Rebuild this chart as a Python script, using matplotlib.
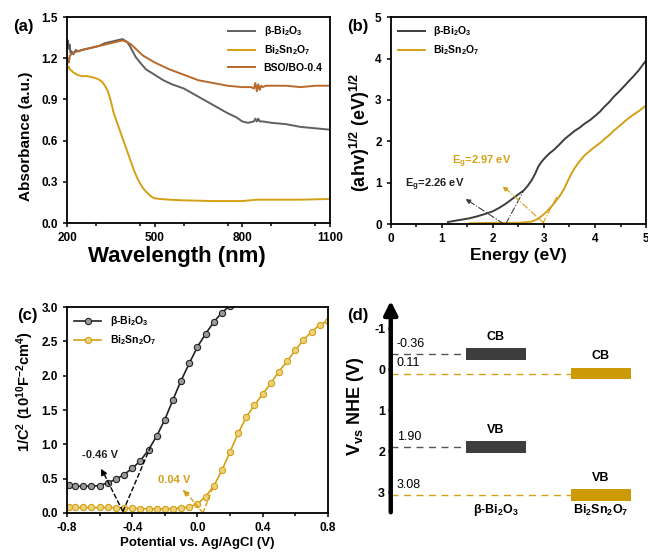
import matplotlib
matplotlib.use('Agg')
import matplotlib.pyplot as plt
from matplotlib.ticker import MultipleLocator

plt.rcParams['font.family'] = ['Liberation Sans', 'DejaVu Sans']
plt.rcParams['font.weight'] = 'bold'
plt.rcParams['axes.labelweight'] = 'bold'
plt.rcParams['axes.linewidth'] = 1.3
plt.rcParams['axes.unicode_minus'] = False
plt.rcParams['mathtext.fontset'] = 'custom'
plt.rcParams['mathtext.rm'] = 'Liberation Sans:bold'
plt.rcParams['mathtext.bf'] = 'Liberation Sans:bold'
plt.rcParams['mathtext.it'] = 'Liberation Sans:bold'

GRAY = '#5f5f5f'
GOLD = '#d4a017'
BROWN = '#b8692c'
DARK = '#3d3d3d'

LBL_BO = 'β-Bi$_2$O$_3$'
LBL_BSO = 'Bi$_2$Sn$_2$O$_7$'

# (a) UV-vis absorbance
wl_bo = [200, 203, 206, 209, 212, 216, 222, 230, 240, 250, 270, 290, 310, 330, 350, 370,
         390, 405, 415, 425, 435, 450, 470, 500, 530, 560, 600, 650, 700, 750, 780, 800,
         820, 840, 845, 850, 855, 860, 870, 900, 950, 1000, 1050, 1100]
abs_bo = [1.31, 1.33, 1.27, 1.30, 1.24, 1.25, 1.23, 1.26, 1.25, 1.26, 1.27, 1.28, 1.29, 1.31, 1.32, 1.33,
          1.34, 1.32, 1.29, 1.25, 1.21, 1.17, 1.12, 1.08, 1.04, 1.01, 0.98, 0.92, 0.86, 0.80, 0.77, 0.74,
          0.73, 0.74, 0.76, 0.74, 0.76, 0.74, 0.74, 0.73, 0.72, 0.70, 0.69, 0.68]
wl_bso = [200, 205, 210, 220, 235, 250, 270, 290, 305, 320, 330, 340, 350, 360, 370, 380, 390,
          400, 410, 420, 430, 440, 450, 460, 470, 480, 490, 500, 520, 550, 600, 700, 800, 850,
          900, 1000, 1100]
abs_bso = [1.12, 1.14, 1.12, 1.10, 1.08, 1.07, 1.07, 1.06, 1.05, 1.03, 1.00, 0.96, 0.89, 0.80, 0.74, 0.68, 0.62,
           0.56, 0.50, 0.44, 0.38, 0.33, 0.29, 0.255, 0.23, 0.21, 0.19, 0.18, 0.175, 0.17, 0.165, 0.16, 0.16, 0.17,
           0.17, 0.17, 0.175]
wl_mix = [200, 203, 206, 210, 220, 235, 250, 270, 290, 310, 330, 350, 370, 390, 405, 420, 440,
          460, 500, 550, 600, 650, 700, 750, 800, 830, 840, 845, 850, 855, 860, 865, 870, 880,
          900, 950, 1000, 1050, 1100]
abs_mix = [1.15, 1.20, 1.17, 1.22, 1.24, 1.25, 1.26, 1.27, 1.28, 1.29, 1.30, 1.31, 1.32, 1.33, 1.32, 1.30, 1.26,
           1.22, 1.17, 1.12, 1.08, 1.04, 1.02, 1.00, 0.99, 0.99, 0.98, 1.02, 0.96, 1.01, 0.97, 1.00, 0.99, 1.00,
           1.00, 1.00, 0.99, 1.00, 1.00]

# (b) Tauc plot
e_bo = [1.12, 1.30, 1.54, 1.70, 1.86, 2.00, 2.12, 2.25, 2.37, 2.50, 2.60, 2.68, 2.76, 2.83, 2.89, 2.95,
        3.02, 3.10, 3.21, 3.30, 3.41, 3.50, 3.60, 3.70, 3.79, 3.90, 3.99, 4.10, 4.18, 4.28, 4.37, 4.47,
        4.57, 4.66, 4.76, 4.86, 4.93, 5.0]
t_bo = [0.05, 0.09, 0.14, 0.19, 0.25, 0.31, 0.39, 0.49, 0.60, 0.72, 0.81, 0.92, 1.06, 1.22, 1.39, 1.50,
        1.60, 1.70, 1.81, 1.92, 2.06, 2.15, 2.25, 2.33, 2.42, 2.51, 2.60, 2.72, 2.83, 2.95, 3.08, 3.20,
        3.33, 3.45, 3.58, 3.72, 3.84, 3.95]
e_bso = [1.54, 2.0, 2.5, 2.76, 2.89, 3.02, 3.10, 3.15, 3.23, 3.31, 3.40, 3.47, 3.54, 3.60, 3.70, 3.79,
         3.90, 3.99, 4.10, 4.18, 4.28, 4.37, 4.47, 4.57, 4.66, 4.76, 4.86, 4.93, 5.0]
t_bso = [0.02, 0.03, 0.03, 0.06, 0.13, 0.26, 0.36, 0.43, 0.55, 0.68, 0.86, 1.05, 1.22, 1.35, 1.52, 1.65,
         1.77, 1.86, 1.96, 2.05, 2.15, 2.26, 2.36, 2.47, 2.56, 2.65, 2.73, 2.80, 2.86]

# (c) Mott-Schottky
v_bo = [-0.79, -0.75, -0.70, -0.65, -0.60, -0.55, -0.50, -0.45, -0.40, -0.35, -0.30, -0.25,
        -0.20, -0.15, -0.10, -0.05, 0.00, 0.05, 0.10, 0.15, 0.20]
ms_bo = [0.41, 0.39, 0.39, 0.39, 0.40, 0.44, 0.49, 0.56, 0.65, 0.76, 0.92, 1.12,
         1.36, 1.65, 1.93, 2.18, 2.42, 2.61, 2.78, 2.92, 3.02]
v_bso = [-0.79, -0.75, -0.70, -0.65, -0.60, -0.55, -0.50, -0.45, -0.40, -0.35, -0.30, -0.25,
         -0.20, -0.15, -0.10, -0.05, 0.00, 0.05, 0.10, 0.15, 0.20, 0.25, 0.30, 0.35, 0.40,
         0.45, 0.50, 0.55, 0.60, 0.65, 0.70, 0.75, 0.80]
ms_bso = [0.08, 0.08, 0.08, 0.08, 0.08, 0.08, 0.075, 0.07, 0.07, 0.065, 0.06, 0.06,
          0.06, 0.065, 0.07, 0.09, 0.13, 0.24, 0.39, 0.62, 0.89, 1.16, 1.40, 1.57, 1.73,
          1.89, 2.06, 2.21, 2.37, 2.52, 2.64, 2.74, 2.80]

# (d) band positions (V vs NHE)
materials = [LBL_BO, LBL_BSO]
cb = [-0.36, 0.11]
vb = [1.90, 3.08]
band_colors = [DARK, '#cc9a06']
line_colors = ['#555555', GOLD]

fig = plt.figure(figsize=(6.48, 5.52), dpi=100)
ax_a = fig.add_axes([0.1034, 0.596, 0.4056, 0.373])
ax_b = fig.add_axes([0.603, 0.594, 0.394, 0.375])
ax_c = fig.add_axes([0.1034, 0.0707, 0.4025, 0.373])
ax_d = fig.add_axes([0.603, 0.067, 0.386, 0.393])

for ax in (ax_a, ax_b, ax_c):
    ax.tick_params(which='both', direction='out', labelsize=8.5, width=1.1)
    ax.tick_params(which='major', length=3)
    ax.tick_params(which='minor', length=2)
    for lab in ax.get_xticklabels() + ax.get_yticklabels():
        lab.set_fontweight('bold')

# ---- (a)
ax_a.plot(wl_bo, abs_bo, color=GRAY, lw=1.4, label=LBL_BO)
ax_a.plot(wl_bso, abs_bso, color=GOLD, lw=1.4, label=LBL_BSO)
ax_a.plot(wl_mix, abs_mix, color=BROWN, lw=1.4, label='BSO/BO-0.4')
ax_a.set_xlim(200, 1100)
ax_a.set_ylim(0, 1.5)
ax_a.set_xticks([200, 500, 800, 1100])
ax_a.xaxis.set_minor_locator(MultipleLocator(150))
ax_a.set_yticks([0.0, 0.3, 0.6, 0.9, 1.2, 1.5])
ax_a.set_xlabel('Wavelength (nm)', fontsize=16)
ax_a.xaxis.set_label_coords(0.418, -0.11)
ax_a.set_ylabel('Absorbance (a.u.)', fontsize=11)
ax_a.yaxis.set_label_coords(-0.13, 0.42)
ax_a.legend(loc='upper right', frameon=False, fontsize=7.5, handlelength=2.6,
            borderaxespad=0.3, labelspacing=0.5)

# ---- (b)
ax_b.plot(e_bo, t_bo, color=DARK, lw=1.4, label=LBL_BO)
ax_b.plot(e_bso, t_bso, color=GOLD, lw=1.4, label=LBL_BSO)
ax_b.set_xlim(0, 5)
ax_b.set_ylim(0, 5)
ax_b.xaxis.set_major_locator(MultipleLocator(1))
ax_b.xaxis.set_minor_locator(MultipleLocator(0.5))
ax_b.yaxis.set_major_locator(MultipleLocator(1))
ax_b.set_xlabel('Energy (eV)', fontsize=12.5, labelpad=2)
ax_b.set_ylabel('(ahv)$^{1/2}$ (eV)$^{1/2}$', fontsize=13)
ax_b.yaxis.set_label_coords(-0.075, 0.445)
ax_b.legend(loc='upper left', frameon=False, fontsize=7.5, handlelength=2.6,
            borderaxespad=0.3, labelspacing=0.5)
ax_b.plot([2.25, 2.6], [0, 0.8], color=DARK, lw=0.8, ls='-.')
ax_b.plot([2.22, 1.5], [0, 0.58], color=DARK, lw=0.8, ls='-.')
ax_b.annotate('', xy=(1.42, 0.64), xytext=(1.55, 0.54),
              arrowprops=dict(arrowstyle='-|>', color=DARK, lw=0.8, mutation_scale=7))
ax_b.text(0.28, 0.94, 'E$_g$=2.26 eV', color='#222222', fontsize=8, va='center')
ax_b.plot([2.97, 3.26], [0, 0.68], color=GOLD, lw=0.8, ls='-.')
ax_b.plot([3.02, 2.25], [0, 0.86], color=GOLD, lw=0.8, ls='-.')
ax_b.annotate('', xy=(2.15, 0.95), xytext=(2.3, 0.8),
              arrowprops=dict(arrowstyle='-|>', color=GOLD, lw=0.8, mutation_scale=7))
ax_b.text(1.2, 1.5, 'E$_g$=2.97 eV', color=GOLD, fontsize=8, va='center')

# ---- (c)
ax_c.plot(v_bo, ms_bo, color='#222222', lw=1.2, marker='o', ms=4.5,
          mfc='#9a9a9a', mec='#222222', mew=0.8, label=LBL_BO)
ax_c.plot(v_bso, ms_bso, color=GOLD, lw=1.2, marker='o', ms=4.5,
          mfc='#ecd27a', mec=GOLD, mew=0.8, label=LBL_BSO)
ax_c.set_xlim(-0.8, 0.8)
ax_c.set_ylim(0, 3.0)
ax_c.xaxis.set_major_locator(MultipleLocator(0.4))
ax_c.xaxis.set_minor_locator(MultipleLocator(0.2))
ax_c.yaxis.set_major_locator(MultipleLocator(0.5))
ax_c.set_xlabel('Potential vs. Ag/AgCl (V)', fontsize=9.5, labelpad=2)
ax_c.set_ylabel('1/C$^2$ (10$^{10}$F$^{-2}$cm$^4$)', fontsize=10.5)
ax_c.yaxis.set_label_coords(-0.12, 0.587)
ax_c.legend(loc='upper left', frameon=False, fontsize=7.5, handlelength=2.6,
            borderaxespad=0.3, labelspacing=0.5)
ax_c.plot([-0.457, -0.29], [0.02, 0.95], color='black', lw=1.0, ls='--')
ax_c.plot([-0.457, -0.575], [0.02, 0.58], color='black', lw=1.0, ls='--')
ax_c.annotate('', xy=(-0.6, 0.68), xytext=(-0.575, 0.57),
              arrowprops=dict(arrowstyle='-|>', color='black', lw=1.0, mutation_scale=9))
ax_c.text(-0.71, 0.84, '-0.46 V', color='#222222', fontsize=8, va='center')
ax_c.plot([0.034, 0.096], [0.0, 0.38], color=GOLD, lw=1.0, ls='--')
ax_c.plot([0.034, -0.07], [0.0, 0.30], color=GOLD, lw=1.0, ls='--')
ax_c.annotate('', xy=(-0.1, 0.36), xytext=(-0.07, 0.29),
              arrowprops=dict(arrowstyle='-|>', color=GOLD, lw=1.0, mutation_scale=8))
ax_c.text(-0.24, 0.48, '0.04 V', color=GOLD, fontsize=8, va='center')

# ---- (d)
ax_d.set_xlim(0, 10)
ax_d.set_ylim(3.56, -1.73)
for s in ax_d.spines.values():
    s.set_visible(False)
ax_d.annotate('', xy=(0, -1.73), xytext=(0, 3.56),
              arrowprops=dict(arrowstyle='-|>', color='black', lw=3.2, mutation_scale=20),
              annotation_clip=False)
ax_d.set_yticks([-1, 0, 1, 2, 3])
ax_d.set_yticklabels(['-1', '0', '1', '2', '3'], fontweight='bold')
ax_d.tick_params(axis='y', direction='out', length=2, width=2, labelsize=9, pad=2)
ax_d.set_xticks([])
ax_d.set_ylabel('V$_{\\mathbf{vs}}$ NHE (V)', fontsize=13, labelpad=6)

xc = [4.2, 8.4]
bw = 2.4
bh = 0.29
for i in range(2):
    ax_d.bar(xc[i], bh, bottom=cb[i] - bh / 2, width=bw, color=band_colors[i], edgecolor='none')
    ax_d.bar(xc[i], bh, bottom=vb[i] - bh / 2, width=bw, color=band_colors[i], edgecolor='none')
    ax_d.plot([0, xc[i] - bw / 2], [cb[i], cb[i]], color=line_colors[i], lw=1.0, ls=(0, (5, 4)))
    ax_d.plot([0, xc[i] - bw / 2], [vb[i], vb[i]], color=line_colors[i], lw=1.0, ls=(0, (5, 4)))
    ax_d.text(0.25, cb[i] - 0.1, f'{cb[i]:.2f}', fontsize=9, fontweight='normal', va='bottom')
    ax_d.text(0.25, vb[i] - 0.1, f'{vb[i]:.2f}', fontsize=9, fontweight='normal', va='bottom')
    ax_d.text(xc[i], cb[i] - bh / 2 - 0.13, 'CB', fontsize=9, ha='center', va='bottom')
    ax_d.text(xc[i], vb[i] - bh / 2 - 0.13, 'VB', fontsize=9, ha='center', va='bottom')
    ax_d.text(xc[i], 3.44, materials[i], fontsize=9, ha='center', va='center')

# panel labels
fig.text(0.020, 0.944, '(a)', fontsize=12)
fig.text(0.535, 0.944, '(b)', fontsize=12)
fig.text(0.026, 0.420, '(c)', fontsize=12)
fig.text(0.535, 0.420, '(d)', fontsize=12)

fig.savefig('out.png', dpi=100)
